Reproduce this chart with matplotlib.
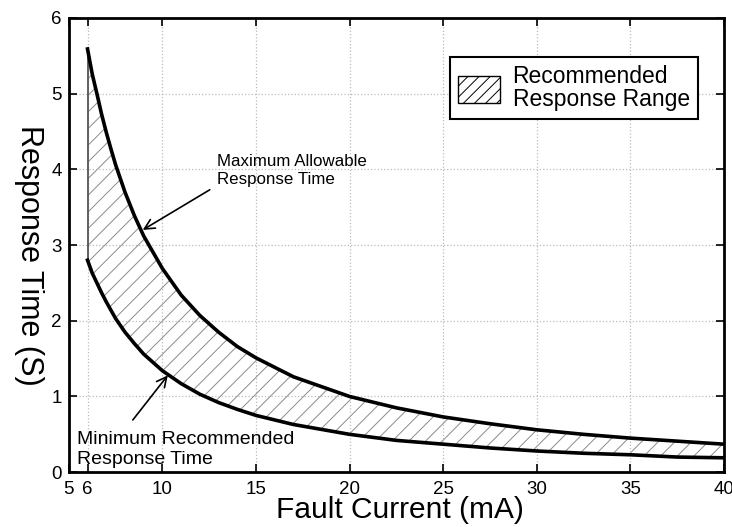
import matplotlib
matplotlib.use("Agg")
import matplotlib.pyplot as plt
from matplotlib.patches import Patch

plt.rcParams['font.family'] = ['Liberation Sans', 'DejaVu Sans']
plt.rcParams['hatch.linewidth'] = 0.7

# values
current_ma = [6, 6.25, 6.5, 6.75, 7, 7.25, 7.5, 7.75, 8, 8.5, 9, 10, 11, 12, 13, 14,
              15, 17, 20, 22.5, 25, 27.5, 30, 32.5, 35, 37.5, 40]
max_allowable = [5.59, 5.26, 5.00, 4.73, 4.49, 4.27, 4.06, 3.88, 3.70, 3.39, 3.12,
                 2.69, 2.34, 2.07, 1.85, 1.66, 1.51, 1.26, 1.00, 0.85, 0.73, 0.64,
                 0.56, 0.50, 0.45, 0.41, 0.37]
min_recommended = [2.80, 2.63, 2.50, 2.37, 2.25, 2.14, 2.03, 1.94, 1.85, 1.70, 1.56,
                   1.34, 1.17, 1.03, 0.92, 0.83, 0.75, 0.63, 0.50, 0.42, 0.37, 0.32,
                   0.28, 0.25, 0.23, 0.20, 0.19]
xticks = [5, 6, 10, 15, 20, 25, 30, 35, 40]
yticks = [0, 1, 2, 3, 4, 5, 6]

fig = plt.figure(figsize=(7.32, 5.27), dpi=100)
ax = fig.add_axes([0.094, 0.104, 0.895, 0.862])

ax.fill_between(current_ma, min_recommended, max_allowable, facecolor='white',
                edgecolor='#8a8a8a', linewidth=0, hatch='//')
ax.plot([current_ma[0], current_ma[0]], [min_recommended[0], max_allowable[0]],
        color='#555555', linewidth=1.3)
ax.plot(current_ma, max_allowable, color='black', linewidth=2.6)
ax.plot(current_ma, min_recommended, color='black', linewidth=2.6)

ax.set_xlim(5, 40)
ax.set_ylim(0, 6)
ax.set_xticks(xticks)
ax.set_yticks(yticks)
ax.grid(True, linestyle=':', color='#bbbbbb', linewidth=0.9)
ax.tick_params(direction='in', length=6, width=1.2, top=True, right=True,
               labelsize=13.5)
ax.tick_params(axis='x', pad=6)
ax.tick_params(axis='y', pad=5)
for s in ax.spines.values():
    s.set_linewidth(2)

fig.text(400 / 732, 1 - 518 / 527, "Fault Current (mA)", fontsize=21.5,
         ha='center', va='baseline')
fig.text(29 / 732, 1 - 255 / 527, "Response Time (S)", fontsize=22,
         rotation=270, ha='center', va='center')

# annotations
ax.text(12.9, 3.98, "Maximum Allowable\nResponse Time", fontsize=12.2, va='center',
        ha='left', linespacing=1.27)
ax.annotate("", xy=(8.95, 3.2), xytext=(12.53, 3.73),
            arrowprops=dict(arrowstyle='->', color='black', lw=1.2, shrinkA=0,
                            shrinkB=0, mutation_scale=18))
ax.text(5.45, 0.30, "Minimum Recommended\nResponse Time", fontsize=14, va='center',
        ha='left', linespacing=1.25)
ax.annotate("", xy=(10.29, 1.28), xytext=(8.42, 0.69),
            arrowprops=dict(arrowstyle='->', color='black', lw=1.2, shrinkA=0,
                            shrinkB=0, mutation_scale=18))

handle = Patch(facecolor='white', edgecolor='black', hatch='///', linewidth=1)
leg = ax.legend([handle], ["Recommended\nResponse Range"], loc='upper right',
                bbox_to_anchor=(0.960, 0.914), borderaxespad=0, fontsize=16.5,
                fancybox=False, framealpha=1, edgecolor='black', handlelength=1.85,
                handleheight=1.45, borderpad=0.35, handletextpad=0.55)
leg.get_frame().set_linewidth(1.5)
for t in leg.get_texts():
    t.set_linespacing(1.0)

fig.savefig("out.png", dpi=100)
